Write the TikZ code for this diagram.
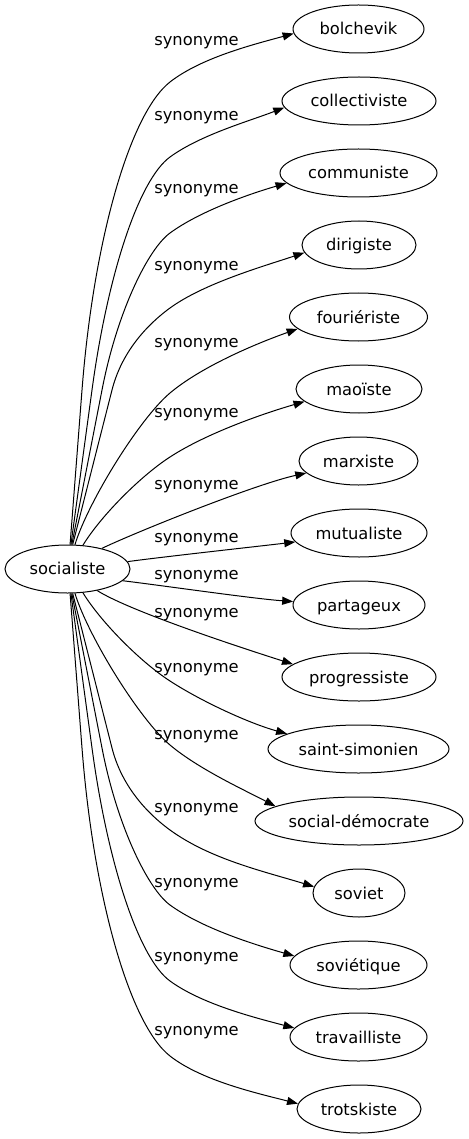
\documentclass[tikz,border=0pt]{standalone}
\usepackage{fontspec}
\setmainfont{DejaVu Sans}
\usetikzlibrary{shapes.geometric,arrows.meta}
\begin{document}
\begin{tikzpicture}[x=1pt,y=-1pt,
  every node/.style={font=\fontsize{16.3}{18}\selectfont},
  word/.style={ellipse, draw, line width=1pt, inner sep=0pt, minimum height=48pt, text height=12pt, text depth=0pt},
  lab/.style={anchor=base, inner sep=0pt},
  syn/.style={line width=1pt, -{Triangle[length=11pt,width=8pt]}}]
\useasboundingbox (0,0) rectangle (468,1139);
\node[word, minimum width=125pt, text height=11pt] (root) at (67.5,569) {\makebox[0pt]{socialiste}};
\node[word, minimum width=131pt] (t0) at (358.5,29) {\makebox[0pt]{bolchevik}};
\node[word, minimum width=154pt] (t1) at (359,101) {\makebox[0pt]{collectiviste}};
\node[word, minimum width=157pt] (t2) at (358.5,173) {\makebox[0pt]{communiste}};
\node[word, minimum width=114pt] (t3) at (359,245) {\makebox[0pt]{dirigiste}};
\node[word, minimum width=138pt] (t4) at (358.5,317) {\makebox[0pt]{fouriériste}};
\node[word, minimum width=126pt] (t5) at (359,389) {\makebox[0pt]{maoïste}};
\node[word, minimum width=119pt] (t6) at (358.5,461) {\makebox[0pt]{marxiste}};
\node[word, minimum width=136pt] (t7) at (359,533) {\makebox[0pt]{mutualiste}};
\node[word, minimum width=132pt] (t8) at (359,605) {\makebox[0pt]{partageux}};
\node[word, minimum width=154pt] (t9) at (359,677) {\makebox[0pt]{progressiste}};
\node[word, minimum width=181pt] (t10) at (358.5,749) {\makebox[0pt]{saint-simonien}};
\node[word, minimum width=208pt] (t11) at (359,821) {\makebox[0pt]{social-démocrate}};
\node[word, minimum width=92pt] (t12) at (359,893) {\makebox[0pt]{soviet}};
\node[word, minimum width=137pt] (t13) at (358.5,965) {\makebox[0pt]{soviétique}};
\node[word, minimum width=137pt] (t14) at (358.5,1037) {\makebox[0pt]{travailliste}};
\node[word, minimum width=124pt] (t15) at (359,1109) {\makebox[0pt]{trotskiste}};
\foreach \n/\y in {0/46,1/121,2/194,3/271,4/347,5/417,6/489,7/542,8/579,9/617,10/672,11/739,12/812,13/887,14/961,15/1035}
  \node[lab] (l\n) at (196.5,\y) {synonyme};
% upper edges
\draw[syn] (root.84) -- (82,390) .. controls (93.6,240.4) and (129.8,113.4) .. (170,82)
  .. controls (201.5,57.4) and (254.6,44.2) .. (t0.184);
\draw[syn] (root.82) -- (92,390) .. controls (107.4,276) and (138.4,180) .. (170,157)
  .. controls (200.7,134.7) and (249.7,121) .. (t1.185);
\draw[syn] (root.80) -- (102,390) .. controls (117.2,311.4) and (148.2,248.9) .. (170,233)
  .. controls (199.9,211.2) and (247.8,194.5) .. (t2.188);
\draw[syn] (root.78) -- (112,390) .. controls (123.5,344.4) and (157.1,317.4) .. (170,308)
  .. controls (204,283.3) and (263.1,266.4) .. (t3.188);
\draw[syn] (root.73) .. controls (88,502) and (139.4,418.7) .. (170,393)
  .. controls (200.6,367.3) and (252.8,344.8) .. (t4.191);
\draw[syn] (root.57) .. controls (100.9,515.9) and (140.6,476) .. (170,457)
  .. controls (206,433.6) and (261.7,414) .. (t5.193);
\draw[syn] (root.31) .. controls (137.5,531.4) and (256,484) .. (t6.193);
\draw[syn] (root.7) .. controls (166.6,556.4) and (252.4,547) .. (t7.188);
% lower edges
\draw[syn] (root.-12) .. controls (161.6,585.4) and (252.4,598.6) .. (t8.177);
\draw[syn] (root.-36) .. controls (130.6,611.6) and (245,649) .. (t9.169);
\draw[syn] (root.-57) .. controls (100.9,622.1) and (140.6,662) .. (170,681)
  .. controls (201.9,701.7) and (249.5,723.4) .. (t10.168);
\draw[syn] (root.-73) .. controls (88,636) and (139.4,719.3) .. (170,745)
  .. controls (198.3,768.8) and (243.7,789.7) .. (t11.170);
\draw[syn] (root.-78) -- (112,748) .. controls (123.5,793.6) and (157.1,820.6) .. (170,830)
  .. controls (210.5,859.4) and (264.5,871.5) .. (t12.172);
\draw[syn] (root.-80) -- (102,748) .. controls (117.2,826.6) and (148.2,889.1) .. (170,905)
  .. controls (201.6,927.9) and (252.6,944.1) .. (t13.172);
\draw[syn] (root.-82) -- (92,748) .. controls (107.4,862) and (138.4,958) .. (170,981)
  .. controls (201.6,1003.9) and (252.6,1017.1) .. (t14.172);
\draw[syn] (root.-84) -- (82,748) .. controls (93.6,897.6) and (129.8,1024.6) .. (170,1056)
  .. controls (201.5,1080.6) and (256.2,1093) .. (t15.175);
\end{tikzpicture}
\end{document}
